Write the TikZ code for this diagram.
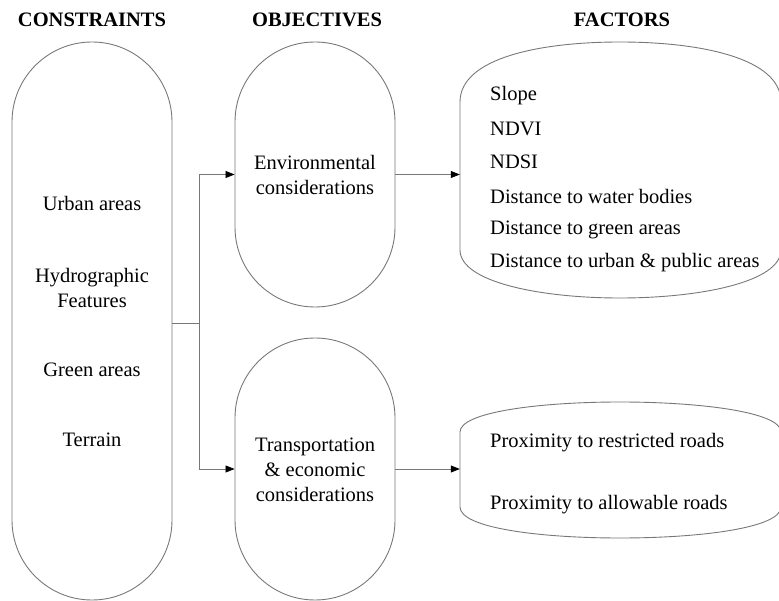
\documentclass[tikz,border=0pt]{standalone}
\usepackage{fontspec}
\setmainfont{Liberation Serif}
\usetikzlibrary{arrows.meta}
\definecolor{edgegray}{RGB}{120,120,120}
\tikzset{
  pill/.style={draw=edgegray, line width=0.9pt, rectangle, rounded corners=79.9pt,
    minimum width=160pt, inner sep=0pt},
  outline/.style={draw=edgegray, line width=0.9pt},
  conn/.style={draw=edgegray, line width=0.8pt},
  arr/.style={conn, -{Triangle[length=9pt,width=7pt,fill=black,color=black]}},
  head/.style={font=\fontsize{20.5}{24}\selectfont\bfseries},
  txt/.style={font=\fontsize{20.5}{24}\selectfont, inner sep=0pt},
  item/.style={txt, anchor=west},
}
\begin{document}
\begin{tikzpicture}[x=1pt, y=-1pt]
\useasboundingbox (0,0) rectangle (779,601);
\clip (0,0) rectangle (779,601);

% column headings
\node[head] (hcon) at (92,20) {CONSTRAINTS};
\node[head] (hobj) at (317,20) {OBJECTIVES};
\node[head] (hfac) at (622,20) {FACTORS};

% constraints
\node[pill, minimum height=558pt] (con) at (92,321) {};
\node[txt] (c1) at (92,203) {Urban areas};
\node[txt, align=center] (c2) at (92,288) {Hydrographic\\[1pt]Features};
\node[txt] (c3) at (92,370) {Green areas};
\node[txt] (c4) at (92,440) {Terrain};

% objectives
\node[pill, minimum height=265pt] (obj1) at (315,174.5) {};
\node[txt, align=center] (o1) at (315,175) {Environmental\\[1pt]considerations};
\node[pill, minimum height=262pt] (obj2) at (315,469) {};
\node[txt, align=center] (o2) at (315,469.5) {Transportation\\[1pt]\& economic\\[1pt]considerations};

% factors: boxes with curved top and bottom
\node[minimum width=321pt, minimum height=256pt, inner sep=0pt] (fac1) at (620.5,170) {};
\draw[outline] (460,102) -- (460,250)
  .. controls (460,282) and (540,298) .. (620,298)
  .. controls (700,298) and (781,282) .. (781,250)
  -- (781,102)
  .. controls (781,58) and (700,42) .. (620,42)
  .. controls (540,42) and (460,58) .. cycle;
\node[item] (f1) at (490,96) {Slope};
\node[item] (f2) at (490,129) {NDVI};
\node[item] (f3) at (490,162) {NDSI};
\node[item] (f4) at (490,196) {Distance to water bodies};
\node[item] (f5) at (490,230) {Distance to green areas};
\node[item] (f6) at (490,263) {Distance to urban \& public areas};

\node[minimum width=321pt, minimum height=136pt, inner sep=0pt] (fac2) at (620.5,470) {};
\draw[outline] (460,432) -- (460,507)
  .. controls (460,528) and (540,538) .. (620,538)
  .. controls (700,538) and (781,528) .. (781,507)
  -- (781,432)
  .. controls (781,412) and (700,402) .. (620,402)
  .. controls (540,402) and (460,412) .. cycle;
\node[item] (g1) at (490,443) {Proximity to restricted roads};
\node[item] (g2) at (490,505) {Proximity to allowable roads};

% connectors
\coordinate (jn) at (199,323);
\draw[conn] (con.east |- jn) -- (jn);
\draw[arr] (jn) |- (obj1.west);
\draw[arr] (jn) |- (obj2.west);
\draw[arr] (obj1.east) -- (obj1.east -| fac1.west);
\draw[arr] (obj2.east) -- (obj2.east -| fac2.west);
\end{tikzpicture}
\end{document}
